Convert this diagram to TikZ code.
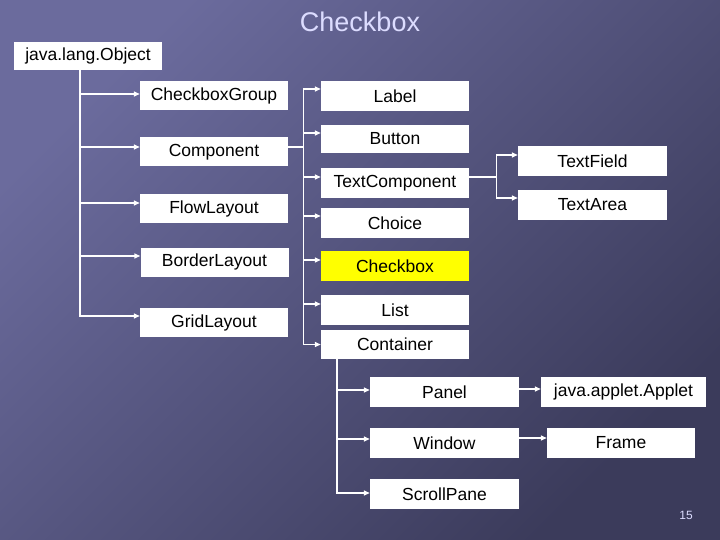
\documentclass[tikz,border=0pt]{standalone}
\usepackage{fontspec}
\setmainfont{Liberation Sans}
\usetikzlibrary{arrows.meta}
\definecolor{bgtop}{HTML}{6B6B9D}
\definecolor{bgbot}{HTML}{3B3B5B}
\definecolor{titlecol}{HTML}{DCDCFF}
\definecolor{hilite}{HTML}{FFFF00}
\tikzset{
  cls/.style={fill=white, inner sep=0pt, minimum width=148pt, minimum height=29pt,
    font=\fontsize{17.5}{20}\selectfont},
  link/.style={draw=white, line width=1.4pt, -{Triangle[length=6pt,width=5pt]}},
  wire/.style={draw=white, line width=1.4pt},
}

\begin{document}
\begin{tikzpicture}[x=1pt,y=-1pt]
\shade[top color=bgtop, bottom color=bgbot, shading angle=45] (0,0) rectangle (720,540);
\node[text=titlecol, font=\fontsize{27}{30}\selectfont] (title) at (360,22) {Checkbox};
\node[text=titlecol, font=\fontsize{12}{14}\selectfont] (pnum) at (686,515) {15};
% left column
\node[cls, minimum height=28pt] (obj) at (88,56) {java.lang.Object};
\node[cls] (cbg) at (214,95.5) {CheckboxGroup};
\node[cls] (comp) at (214,152) {Component};
\node[cls] (flow) at (214,209) {FlowLayout};
\node[cls] (border) at (214.5,262) {BorderLayout};
\node[cls] (grid) at (214,322.5) {GridLayout};
% middle column
\node[cls, minimum height=30pt] (label) at (395,96) {Label};
\node[cls, minimum height=28pt] (button) at (395,139) {Button};
\node[cls, minimum height=30pt] (tcomp) at (395,183) {TextComponent};
\node[cls, minimum height=30pt] (choice) at (395,223) {Choice};
\node[cls, minimum height=30pt, fill=hilite] (chk) at (395,266) {Checkbox};
\node[cls, minimum height=30pt] (list) at (395,310) {List};
\node[cls] (cont) at (395,344.5) {Container};
% right column
\node[cls, minimum width=149pt, minimum height=30pt] (tfield) at (592.5,161) {TextField};
\node[cls, minimum width=149pt, minimum height=30pt] (tarea) at (592.5,205) {TextArea};
% containers
\node[cls, minimum width=149pt, minimum height=30pt] (panel) at (444.5,392) {Panel};
\node[cls, minimum width=149pt, minimum height=30pt] (window) at (444.5,443) {Window};
\node[cls, minimum width=149pt, minimum height=30pt] (scroll) at (444.5,494) {ScrollPane};
\node[cls, minimum width=165pt, minimum height=30pt] (applet) at (623.5,392) {java.applet.Applet};
\node[cls, minimum height=30pt] (frame) at (621,443) {Frame};

% connectors
\coordinate (ltrunk) at ([xshift=-8pt]obj.south);
\draw[link] (ltrunk) |- ([yshift=1.5pt]cbg.west);
\draw[link] (ltrunk) |- ([yshift=5pt]comp.west);
\draw[link] (ltrunk) |- ([yshift=6pt]flow.west);
\draw[link] (ltrunk) |- ([yshift=6pt]border.west);
\draw[link] (ltrunk) |- ([yshift=6.5pt]grid.west);

\coordinate (mtrunk) at ([shift={(15pt,5pt)}]comp.east);
\draw[wire] ([yshift=5pt]comp.east) -- (mtrunk);
\draw[link] (mtrunk) |- ([yshift=7pt]label.west);
\draw[link] (mtrunk) |- ([yshift=6pt]button.west);
\draw[link] (mtrunk) |- ([yshift=6pt]tcomp.west);
\draw[link] (mtrunk) |- ([yshift=7pt]choice.west);
\draw[link] (mtrunk) |- ([yshift=6pt]chk.west);
\draw[link] (mtrunk) |- ([yshift=6pt]list.west);
\draw[link] (mtrunk) |- (cont.west);

\coordinate (ttrunk) at ([shift={(27pt,6pt)}]tcomp.east);
\draw[wire] ([yshift=6pt]tcomp.east) -- (ttrunk);
\draw[link] (ttrunk) |- ([yshift=6pt]tfield.west);
\draw[link] (ttrunk) |- ([yshift=7pt]tarea.west);

\coordinate (ctrunk) at ([xshift=-58pt]cont.south);
\draw[link] (ctrunk) |- ([yshift=2pt]panel.west);
\draw[link] (ctrunk) |- ([yshift=4pt]window.west);
\draw[link] (ctrunk) |- ([yshift=1pt]scroll.west);
\draw[link] ([yshift=3pt]panel.east) -- ([yshift=3pt]applet.west);
\draw[link] ([yshift=5pt]window.east) -- ([yshift=5pt]frame.west);
\end{tikzpicture}
\end{document}
